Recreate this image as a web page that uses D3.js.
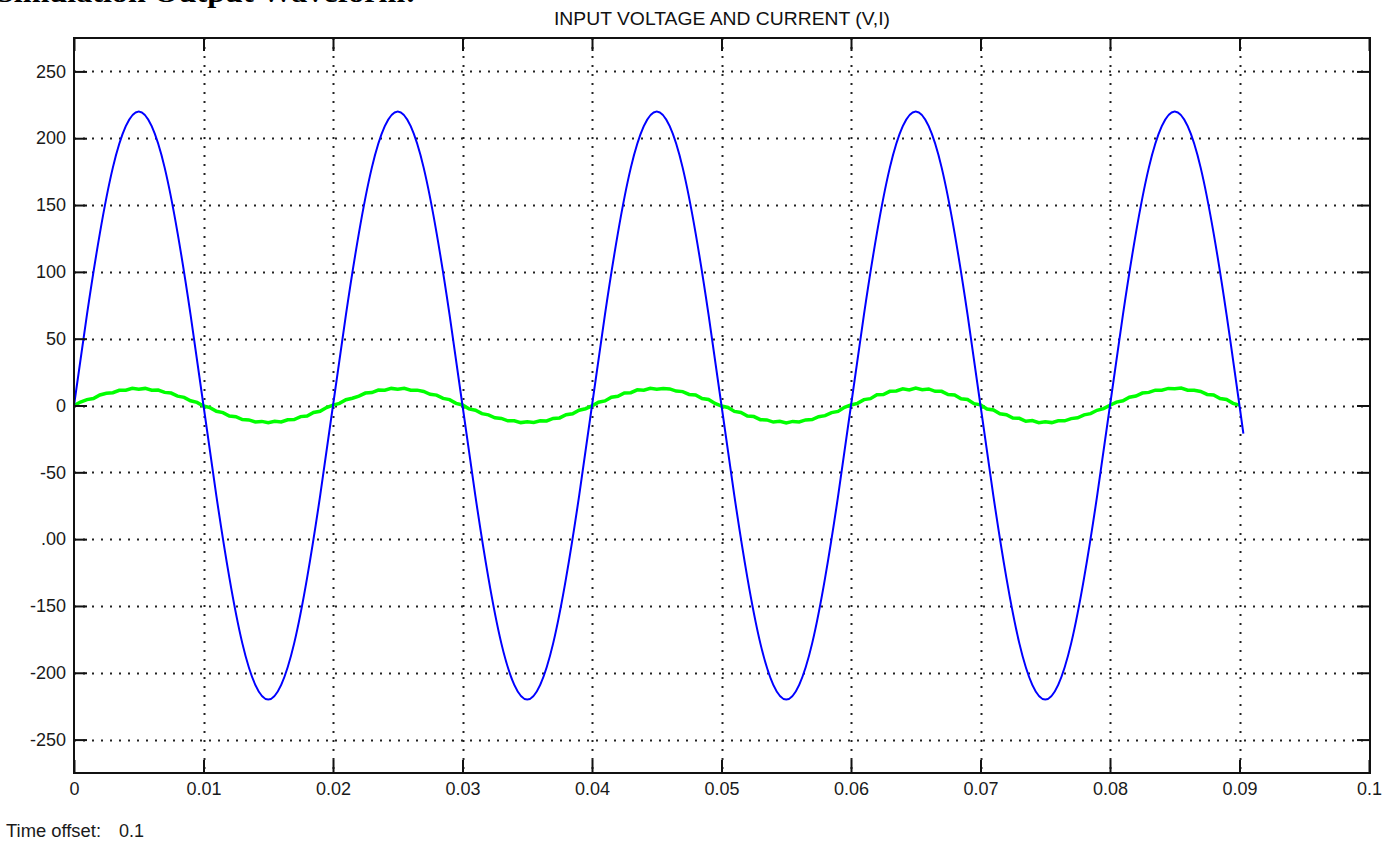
<!DOCTYPE html>
<html>
<head>
<meta charset="utf-8">
<script src="https://cdn.jsdelivr.net/npm/d3@7"></script>
<style>
  html, body { margin: 0; padding: 0; background: #fff; }
  svg { display: block; }
</style>
</head>
<body>
<div class="svgWrapper"></div>
<script>
// Data //
const xTicks = [0, 0.01, 0.02, 0.03, 0.04, 0.05, 0.06, 0.07, 0.08, 0.09, 0.1];
const xTickLabels = ["0", "0.01", "0.02", "0.03", "0.04", "0.05", "0.06", "0.07", "0.08", "0.09", "0.1"];
const yTicks = [-250, -200, -150, -100, -50, 0, 50, 100, 150, 200, 250];
const yTickLabels = ["-250", "-200", "-150", ".00", "-50", "0", "50", "100", "150", "200", "250"];

// input voltage (blue), one sample every 1 ms, last sample at 0.0903 s
const voltageStep = 0.001;
const voltage = [
  0, 68, 129, 178, 209, 220, 209, 178, 129, 68, 0, -68, -129, -178, -209, -220, -209, -178, -129, -68,
  0, 68, 129, 178, 209, 220, 209, 178, 129, 68, 0, -68, -129, -178, -209, -220, -209, -178, -129, -68,
  0, 68, 129, 178, 209, 220, 209, 178, 129, 68, 0, -68, -129, -178, -209, -220, -209, -178, -129, -68,
  0, 68, 129, 178, 209, 220, 209, 178, 129, 68, 0, -68, -129, -178, -209, -220, -209, -178, -129, -68,
  0, 68, 129, 178, 209, 220, 209, 178, 129, 68, 0
];
const voltageLast = { t: 0.0903, v: -21 };

// input current (green), one sample every 0.5 ms
const currentStep = 0.0005;
const current = [
  0.0, 2.6, 4.4, 5.2, 7.9, 9.1, 9.6, 11.4, 11.5, 12.9, 12.2, 12.8, 11.4, 11.6, 9.8, 9.3, 7.0, 6.1, 3.5, 2.3,
  -0.4, -1.6, -4.3, -5.3, -7.9, -8.4, -10.5, -10.8, -12.3, -11.9, -12.9, -11.8, -12.3, -10.7, -10.5, -8.3, -7.8, -5.2, -4.3, -1.5,
  0.3, 1.6, 4.3, 5.4, 7.0, 9.3, 9.7, 11.6, 11.4, 12.8, 12.1, 12.9, 11.5, 11.5, 10.5, 8.4, 7.8, 5.3, 4.4, 1.6,
  0.4, -2.5, -3.5, -6.1, -7.0, -9.2, -9.7, -11.5, -11.4, -12.8, -12.1, -12.7, -11.4, -11.6, -9.7, -9.3, -6.9, -6.2, -3.5, -2.4,
  -0.3, 2.5, 3.4, 6.2, 6.9, 9.4, 9.6, 11.7, 11.4, 12.9, 12.2, 12.8, 12.4, 10.8, 10.4, 8.3, 7.9, 5.2, 4.5, 1.5,
  -0.4, -1.5, -4.4, -5.2, -7.9, -8.3, -10.6, -10.8, -12.4, -11.8, -13.0, -11.9, -12.3, -10.8, -10.5, -8.4, -7.6, -5.3, -4.4, -1.4,
  0.4, 1.6, 4.4, 5.1, 8.0, 8.2, 10.6, 10.9, 12.5, 11.6, 13.1, 11.8, 12.4, 10.6, 10.6, 8.2, 7.9, 5.0, 4.5, 1.4,
  0.5, -2.6, -3.4, -6.2, -6.9, -9.4, -9.6, -11.8, -11.3, -12.9, -12.2, -12.8, -11.5, -11.5, -9.8, -9.2, -7.0, -6.1, -3.6, -2.3,
  0.2, 2.5, 3.5, 6.2, 7.1, 9.3, 9.8, 11.5, 11.5, 12.8, 12.6, 13.1, 11.5, 11.4, 10.5, 8.3, 7.9, 5.2, 4.5, 1.6, 0.3
];

// Styles //
const svgStyles = { w: 1398, h: 841 };
const plot = { left: 74, right: 1370, top: 38, bottom: 773 };
const labelFont = "'Liberation Sans', Arial, sans-serif";

const svg = d3
  .select(".svgWrapper")
  .append("svg")
  .attr("width", svgStyles.w)
  .attr("height", svgStyles.h);

// caption above the figure, cut off by the top edge as in the source
svg
  .append("text")
  .attr("x", -4)
  .attr("y", 2)
  .style("font-family", "'Liberation Serif', 'Times New Roman', serif")
  .style("font-weight", "bold")
  .style("font-size", "27px")
  .attr("textLength", 420)
  .attr("lengthAdjust", "spacingAndGlyphs")
  .text("Simulation Output Waveform:");

// title
svg
  .append("text")
  .attr("x", (plot.left + plot.right) / 2)
  .attr("y", 25)
  .attr("text-anchor", "middle")
  .style("font-family", labelFont)
  .style("font-size", "19px")
  .style("fill", "#111")
  .attr("textLength", 336)
  .attr("lengthAdjust", "spacingAndGlyphs")
  .text("INPUT VOLTAGE AND CURRENT (V,I)");

// scales
const xScale = d3.scaleLinear().domain([0, 0.1]).range([plot.left, 74 + 1295]);
const yScale = d3.scaleLinear().domain([-275, 275]).range([plot.bottom, plot.top]);

// grid
const grid = svg.append("g").attr("class", "grid");
grid
  .selectAll(".vgrid")
  .data(xTicks.slice(1, -1))
  .enter()
  .append("line")
  .attr("x1", d => Math.round(xScale(d)) + 0.5)
  .attr("x2", d => Math.round(xScale(d)) + 0.5)
  .attr("y1", plot.top)
  .attr("y2", plot.bottom)
  .attr("stroke", "#222")
  .attr("stroke-width", 2)
  .attr("stroke-dasharray", "2,7");
grid
  .selectAll(".hgrid")
  .data(yTicks)
  .enter()
  .append("line")
  .attr("x1", plot.left)
  .attr("x2", plot.right)
  .attr("y1", d => Math.round(yScale(d)) + 0.5)
  .attr("y2", d => Math.round(yScale(d)) + 0.5)
  .attr("stroke", "#222")
  .attr("stroke-width", 2)
  .attr("stroke-dasharray", "2,7");

// curves
const voltagePoints = voltage.map((v, i) => ({ t: i * voltageStep, v: v }));
voltagePoints.push(voltageLast);
const currentPoints = current.map((v, i) => ({ t: i * currentStep, v: v }));

svg
  .append("path")
  .datum(currentPoints)
  .attr("fill", "none")
  .attr("stroke", "#00ff00")
  .attr("stroke-width", 3.5)
  .attr("d", d3.line().x(d => xScale(d.t)).y(d => yScale(d.v)));

svg
  .append("path")
  .datum(voltagePoints)
  .attr("fill", "none")
  .attr("stroke", "#0000ff")
  .attr("stroke-width", 2)
  .attr("d", d3.line().curve(d3.curveNatural).x(d => xScale(d.t)).y(d => yScale(d.v)));

// axes
const tickLen = 13;
const axisStyle = g => {
  g.select(".domain").remove();
  g.selectAll(".tick line").attr("stroke", "#111").attr("stroke-width", 2);
  g.selectAll(".tick text")
    .style("font-family", labelFont)
    .style("font-size", "18px")
    .style("fill", "#1a1a1a");
};

svg
  .append("g")
  .attr("id", "x-axis")
  .attr("transform", `translate(0, ${plot.bottom})`)
  .call(
    d3.axisBottom(xScale)
      .tickValues(xTicks)
      .tickFormat((d, i) => xTickLabels[i])
      .tickSizeInner(-tickLen)
      .tickSizeOuter(0)
      .tickPadding(9)
  )
  .call(axisStyle);

svg
  .append("g")
  .attr("transform", `translate(0, ${plot.top})`)
  .call(
    d3.axisTop(xScale)
      .tickValues(xTicks)
      .tickFormat("")
      .tickSizeInner(-tickLen)
      .tickSizeOuter(0)
  )
  .call(axisStyle);

svg
  .append("g")
  .attr("id", "y-axis")
  .attr("transform", `translate(${plot.left}, 0)`)
  .call(
    d3.axisLeft(yScale)
      .tickValues(yTicks)
      .tickFormat((d, i) => yTickLabels[i])
      .tickSizeInner(-tickLen)
      .tickSizeOuter(0)
      .tickPadding(8)
  )
  .call(axisStyle);

svg
  .append("g")
  .attr("transform", `translate(${plot.right}, 0)`)
  .call(
    d3.axisRight(yScale)
      .tickValues(yTicks)
      .tickFormat("")
      .tickSizeInner(-tickLen)
      .tickSizeOuter(0)
  )
  .call(axisStyle);

// frame
svg
  .append("rect")
  .attr("x", plot.left)
  .attr("y", plot.top)
  .attr("width", plot.right - plot.left)
  .attr("height", plot.bottom - plot.top)
  .attr("fill", "none")
  .attr("stroke", "#111")
  .attr("stroke-width", 2);

// footer
svg
  .append("text")
  .attr("x", 6)
  .attr("y", 837)
  .style("font-family", labelFont)
  .style("font-size", "18px")
  .style("fill", "#1a1a1a")
  .attr("textLength", 95)
  .attr("lengthAdjust", "spacingAndGlyphs")
  .text("Time offset:");

svg
  .append("text")
  .attr("x", 119)
  .attr("y", 837)
  .style("font-family", labelFont)
  .style("font-size", "18px")
  .style("fill", "#1a1a1a")
  .text("0.1");
</script>
</body>
</html>
